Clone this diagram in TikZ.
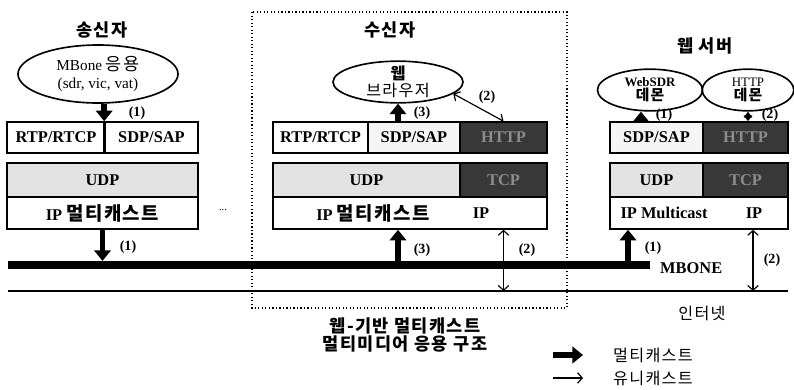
\documentclass[tikz,border=0pt]{standalone}
\usepackage{fontspec}
\setmainfont{Liberation Serif}
\newfontfamily\hangul[Scale=1.15, LetterSpace=8]{Noto Sans CJK KR}
\usetikzlibrary{arrows.meta,shapes.geometric}

\tikzset{
  celltext/.style={font=\fontsize{14}{16}\selectfont\bfseries, inner sep=0pt},
  cell/.style={celltext, draw, line width=1.4pt, minimum height=0.93cm},
  stack/.style={cell, minimum height=1.02cm},
  dotfill/.style={fill=black!11},
  light/.style={fill=black!4},
  dark/.style={fill=black!78, text=black!45},
  app/.style={ellipse, draw, line width=1.4pt, inner sep=0pt},
  apptext/.style={align=center, font=\fontsize{12}{14}\selectfont},
  title/.style={font=\hangul\fontsize{13}{15}\selectfont\bfseries},
  num/.style={font=\fontsize{12}{14}\selectfont\bfseries, inner sep=1pt},
  legend/.style={font=\hangul\fontsize{12}{14}\selectfont, inner sep=0pt},
  mcast/.style={line width=5pt, -{Triangle[width=14pt,length=9pt]}},
  ucast/.style={line width=1pt, {Straight Barb[length=4pt,width=9pt]}-{Straight Barb[length=4pt,width=9pt]}},
  dbl/.style={line width=2pt, {Triangle[width=7pt,length=5pt]}-{Triangle[width=7pt,length=5pt]}},
}

\begin{document}
\begin{tikzpicture}[x=0.03cm, y=-0.03cm]
    \useasboundingbox (0,0) rectangle (794,389);

    % sender
    \node (s-title) [title] at (102,30) {송신자};
    \node (s-app) [app, minimum width=4.8cm, minimum height=1.74cm] at (98,74) {};
    \node (s-app-txt) [apptext, font=\fontsize{13}{16}\selectfont] at (s-app) {MBone {\hangul 응용}\\(sdr, vic, vat)};
    \node (s-rtp) [cell, minimum width=2.94cm] at (56,137.5) {RTP/RTCP};
    \node (s-sdp) [cell, minimum width=2.79cm] at (151.5,137.5) {SDP/SAP};
    \node (s-udp) [stack, dotfill, minimum width=5.73cm] at (102.5,180) {UDP};
    \node (s-ip) [stack, minimum width=5.73cm, minimum height=0.96cm] at (102.5,213) {IP {\hangul 멀티캐스트}};
    \node (more) [num, font=\small] at (223,210) {...};

    % receiver
    \draw [dotted, line width=1pt] (252,12) rectangle (567,308);
    \node (r-title) [title] at (390,30) {수신자};
    \node (r-web) [app, minimum width=3.9cm, minimum height=1.25cm] at (398,82) {};
    \node (r-web-txt) [apptext] at (r-web) {{\hangul\bfseries 웹}\\{\hangul 브라우저}};
    \node (r-rtp) [cell, minimum width=2.85cm] at (320.5,137.5) {RTP/RTCP};
    \node (r-sdp) [cell, light, minimum width=2.76cm] at (414,137.5) {SDP/SAP};
    \node (r-http) [cell, dark, minimum width=2.61cm] at (503.5,137.5) {HTTP};
    \node (r-udp) [stack, dotfill, minimum width=5.61cm] at (366.5,180) {UDP};
    \node (r-tcp) [stack, dark, minimum width=2.61cm] at (503.5,180) {TCP};
    \node (r-ip) [stack, minimum width=8.22cm, minimum height=0.96cm] at (410,213) {};
    \node (r-ip-mc) [celltext] at (373,213) {IP {\hangul 멀티캐스트}};
    \node (r-ip-uc) [celltext] at (481,213) {IP};

    % web server
    \node (w-title) [title] at (705,46) {웹 서버};
    \node (w-sdr) [app, minimum width=3.15cm, minimum height=1.25cm] at (650,90) {};
    \node (w-sdr-txt) [apptext, font=\fontsize{11}{12}\selectfont\bfseries] at (w-sdr) {WebSDR\\{\hangul 데몬}};
    \node (w-httpd) [app, minimum width=2.75cm, minimum height=1.25cm] at (748,90) {};
    \node (w-httpd-txt) [apptext, font=\fontsize{11}{12}\selectfont] at (w-httpd) {HTTP\\{\hangul\bfseries 데몬}};
    \node (w-sdp) [cell, light, minimum width=2.79cm] at (656.5,137.5) {SDP/SAP};
    \node (w-http) [cell, dark, minimum width=2.55cm] at (745.5,137.5) {HTTP};
    \node (w-udp) [stack, dotfill, minimum width=2.79cm] at (656.5,180) {UDP};
    \node (w-tcp) [stack, dark, minimum width=2.55cm] at (745.5,180) {TCP};
    \node (w-ip) [stack, minimum width=5.34cm, minimum height=0.96cm] at (699,213) {};
    \node (w-ip-mc) [celltext] at (664,213) {IP Multicast};
    \node (w-ip-uc) [celltext] at (754,213) {IP};

    % networks
    \coordinate (mb-w) at (8,265);
    \coordinate (mb-e) at (650,265);
    \draw [line width=7.5pt] (mb-w) -- (mb-e);
    \node (mbone) [celltext, anchor=west] at (660,268) {MBONE};
    \coordinate (net-w) at (8,291);
    \coordinate (net-e) at (788,291);
    \draw [line width=1.3pt] (net-w) -- (net-e);
    \node (net) [legend] at (702,313) {인터넷};

    % flows
    \draw [mcast] (s-app.south -| s-sdp.west) -- (s-sdp.north west);
    \draw [line width=2.5pt] (s-sdp.north west) -- (s-sdp.south west);
    \draw [mcast, shorten >=3.5pt] (s-ip.south) -- (s-ip.south |- mb-w);
    \draw [mcast] (r-web.south |- r-sdp.north) -- (r-web.south);
    \draw [ucast] (r-web.-12) -- (r-http.north);
    \draw [mcast, shorten <=3.5pt] (r-web.south |- mb-w) -- (r-web.south |- r-ip.south);
    \draw [ucast] (r-http.south |- r-ip.south) -- (r-http.south |- net-w);
    \coordinate (w-pull) at (641,0);
    \draw [mcast] (w-pull |- w-sdp.north) -- (w-pull |- w-sdr.south);
    \draw [dbl] (w-httpd.south) -- (w-httpd.south |- w-http.north);
    \coordinate (w-feed) at (628,265);
    \draw [mcast, shorten <=3.5pt] (w-feed) -- (w-feed |- w-ip.south);
    \coordinate (w-uni) at (753,291);
    \draw [ucast] (w-uni |- w-ip.south) -- (w-uni);

    \node (s-n1) [num] at (137,113) {(1)};
    \node (s-n1b) [num] at (128,247) {(1)};
    \node (r-n3) [num] at (422,113) {(3)};
    \node (r-n2) [num] at (487,97) {(2)};
    \node (r-n3b) [num] at (422,250) {(3)};
    \node (r-n2b) [num] at (527,250) {(2)};
    \node (w-n1) [num] at (664,115) {(1)};
    \node (w-n2) [num] at (770,115) {(2)};
    \node (w-n1b) [num] at (653,248) {(1)};
    \node (w-n2b) [num] at (772,260) {(2)};

    % caption and legend
    \node (caption) [align=center, font=\hangul\fontsize{13}{16}\selectfont\bfseries] at (405,335) {웹-기반 멀티캐스트\\멀티미디어 응용 구조};
    \node (leg-m) [legend, anchor=west] at (613,355) {멀티캐스트};
    \node (leg-u) [legend, anchor=west] at (613,378) {유니캐스트};
    \draw [mcast] ([xshift=-1.8cm]leg-m.west) -- ([xshift=-0.9cm]leg-m.west);
    \draw [line width=1pt, -{Straight Barb[length=4pt,width=9pt]}] ([xshift=-1.8cm]leg-u.west) -- ([xshift=-0.9cm]leg-u.west);
\end{tikzpicture}
\end{document}
